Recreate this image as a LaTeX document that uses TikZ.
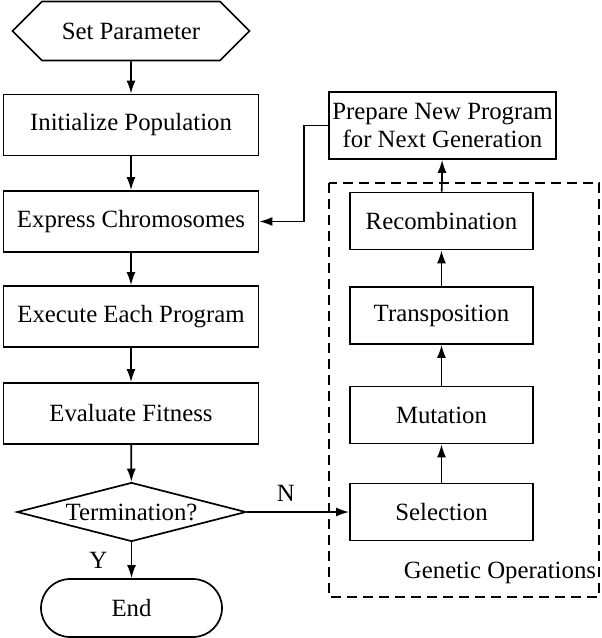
\documentclass[tikz,border=0pt]{standalone}
\usepackage{fontspec}
\setmainfont{Liberation Serif}
\usetikzlibrary{shapes.geometric,shapes.symbols,arrows.meta}

\tikzstyle{stepbox} = [draw=black, fill=white, line width=1.7pt,
    rectangle, minimum width=255pt, minimum height=61pt, inner sep=0pt]
\tikzstyle{opbox} = [stepbox, minimum width=183pt, minimum height=57pt]
\tikzstyle{flowline} = [line width=1.7pt, -{Latex[length=13pt,width=9pt]}]

\begin{document}
\begin{tikzpicture}[x=1pt, y=-1pt, font=\fontsize{24.8}{28.5}\selectfont]
    \useasboundingbox (0,0) rectangle (602,638);
%------------ Hauptablauf ---------------------
    \node [draw=black, line width=1.7pt, signal, signal to=west and east,
        signal pointer angle=90, minimum width=237pt, minimum height=59pt,
        inner sep=0pt] (setpar) at (131,31) {Set Parameter};
    \node [stepbox] (init) at (131,125) {Initialize Population};
    \node [stepbox] (express) at (131,221.5) {Express Chromosomes};
    \node [stepbox] (execute) at (131,316.5) {Execute Each Program};
    \node [stepbox] (evaluate) at (131,413.5) {Evaluate Fitness};
    \node [draw=black, line width=1.7pt, diamond, aspect=3.9, inner sep=0pt,
        minimum width=229pt, minimum height=59pt] (term) at (131.5,512) {Termination?};
    \node [draw=black, line width=1.7pt, rectangle, rounded corners=29pt,
        minimum width=181pt, minimum height=58pt] (end) at (131.5,608) {End};
%------------ Genetische Operationen ---------------------
    \draw [line width=1.7pt, dash pattern=on 10pt off 6pt] (329,183) rectangle (599,597);
    \node [opbox] (select) at (441.5,512) {Selection};
    \node [opbox] (mutate) at (441.5,415) {Mutation};
    \node [opbox] (transp) at (441.5,315.5) {Transposition};
    \node [opbox] (recomb) at (441.5,221) {Recombination};
    \node [stepbox, minimum width=227pt, minimum height=67pt, align=center]
        (prepare) at (442.5,125.5) {Prepare New Program\\for Next Generation};
    \node (genop) at (500,573) {Genetic Operations};
%------------ Verbindungen ---------------------
    \draw [flowline] (setpar) -- (init);
    \draw [flowline] (init) -- (express);
    \draw [flowline] (express) -- (execute);
    \draw [flowline] (execute) -- (evaluate);
    \draw [flowline] (evaluate) -- (term);
    \draw [flowline] (term) -- node [left=20pt] {Y} (end);
    \draw [flowline] (term.east) -- node [pos=0.38, above=6pt] {N} (select.west);
    \draw [flowline] (select) -- (mutate);
    \draw [flowline] (mutate) -- (transp);
    \draw [flowline] (transp) -- (recomb);
    \draw [flowline] (recomb) -- (prepare);
    \draw [flowline] (prepare.west) -- ++(-24,0) |- (express.east);
\end{tikzpicture}
\end{document}
